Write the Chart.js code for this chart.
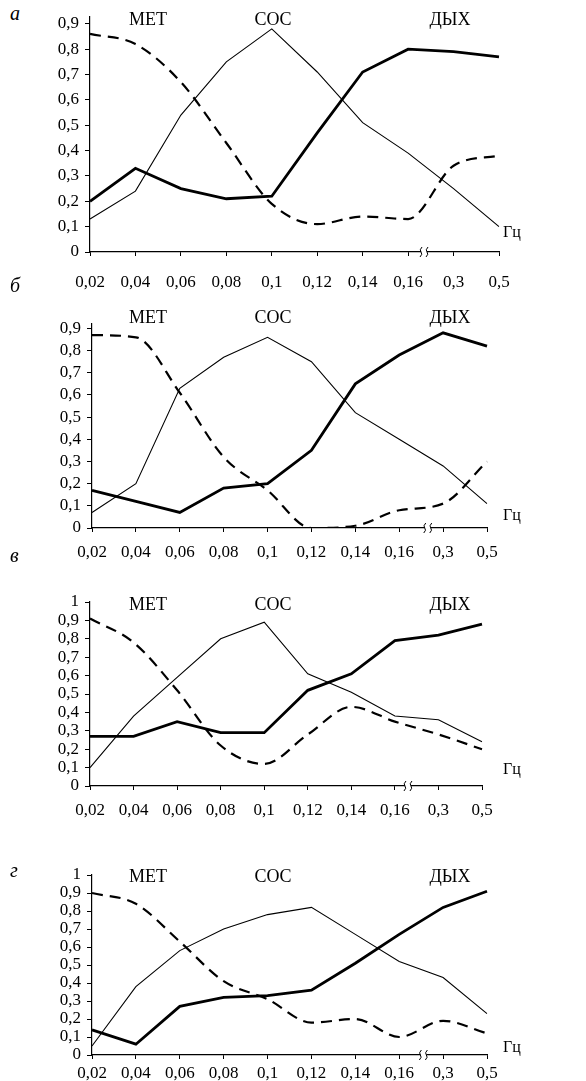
<!DOCTYPE html>
<html>
<head>
<meta charset="utf-8">
<script src="https://cdn.jsdelivr.net/npm/chart.js@4/dist/chart.umd.min.js"></script>
<style>
  body { margin: 0; background: #fff; }
  #wrap { position: relative; width: 586px; height: 1081px; overflow: hidden; }
  canvas { position: absolute; left: 0; }
  .letter { position: absolute; left: 10px; font: italic 20px "Liberation Serif", serif; color: #000; }
</style>
</head>
<body>
<div id="wrap"></div>
<script>
// частоты (ось X) и подписи
var freqLabels = ['0,02', '0,04', '0,06', '0,08', '0,1', '0,12', '0,14', '0,16', '0,3', '0,5'];
var groupNames = ['МЕТ', 'СОС', 'ДЫХ'];
var yTicks9 = [0, 0.1, 0.2, 0.3, 0.4, 0.5, 0.6, 0.7, 0.8, 0.9];
var yTicks10 = [0, 0.1, 0.2, 0.3, 0.4, 0.5, 0.6, 0.7, 0.8, 0.9, 1];

// а
var metA = [0.86, 0.82, 0.67, 0.43, 0.19, 0.11, 0.14, 0.13, 0.34, 0.38];
var socA = [0.13, 0.24, 0.54, 0.75, 0.88, 0.71, 0.51, 0.39, 0.25, 0.10];
var dyhA = [0.20, 0.33, 0.25, 0.21, 0.22, 0.47, 0.71, 0.80, 0.79, 0.77];
// б
var metB = [0.87, 0.86, 0.61, 0.32, 0.17, 0.00, 0.01, 0.08, 0.11, 0.30];
var socB = [0.07, 0.20, 0.63, 0.77, 0.86, 0.75, 0.52, 0.40, 0.28, 0.11];
var dyhB = [0.17, 0.12, 0.07, 0.18, 0.20, 0.35, 0.65, 0.78, 0.88, 0.82];
// в
var metC = [0.91, 0.78, 0.52, 0.22, 0.12, 0.28, 0.43, 0.35, 0.28, 0.20];
var socC = [0.10, 0.38, 0.59, 0.80, 0.89, 0.61, 0.51, 0.38, 0.36, 0.24];
var dyhC = [0.27, 0.27, 0.35, 0.29, 0.29, 0.52, 0.61, 0.79, 0.82, 0.88];
// г
var metD = [0.90, 0.84, 0.63, 0.41, 0.31, 0.18, 0.20, 0.10, 0.19, 0.12];
var socD = [0.05, 0.38, 0.58, 0.70, 0.78, 0.82, 0.67, 0.52, 0.43, 0.23];
var dyhD = [0.14, 0.06, 0.27, 0.32, 0.33, 0.36, 0.51, 0.67, 0.82, 0.91];

var FONT = '"Liberation Serif", "Times New Roman", serif';

// top/height - холст, padTop/bottom - область графика внутри холста
var panels = [
  { letter: 'а', top: 0,   height: 300, padTop: 15, bottom: 252, left: 90, right: 499, max: 0.93, yTicks: yTicks9,  gap: 20, titleY: 20, hzY: 233, brk: 7.35, letterY: 2,   data: [metA, socA, dyhA] },
  { letter: 'б', top: 300, height: 270, padTop: 24, bottom: 228, left: 92, right: 487, max: 0.92, yTicks: yTicks9,  gap: 14, titleY: 18, hzY: 216, brk: 7.65, letterY: 274, data: [metB, socB, dyhB] },
  { letter: 'в', top: 570, height: 255, padTop: 32, bottom: 216, left: 90, right: 482, max: 1,    yTicks: yTicks10, gap: 14, titleY: 35, hzY: 200, brk: 7.3,  letterY: 544, data: [metC, socC, dyhC] },
  { letter: 'г', top: 825, height: 256, padTop: 50, bottom: 230, left: 92, right: 487, max: 1,    yTicks: yTicks10, gap: 8,  titleY: 52, hzY: 223, brk: 7.55, letterY: 859, data: [metD, socD, dyhD] }
];

var wrap = document.getElementById('wrap');

panels.forEach(function(p){
  var lt = document.createElement('div');
  lt.className = 'letter';
  lt.style.top = p.letterY + 'px';
  lt.textContent = p.letter;
  wrap.appendChild(lt);

  var cv = document.createElement('canvas');
  cv.width = 586;
  cv.height = p.height;
  cv.style.top = p.top + 'px';
  wrap.appendChild(cv);

  // подписи МЕТ / СОС / ДЫХ, "Гц" и разрыв оси
  var extras = {
    id: 'extras',
    afterDraw: function(chart){
      var ctx = chart.ctx;
      var xs = chart.scales.x;
      var area = chart.chartArea;
      ctx.save();
      ctx.fillStyle = '#000';
      ctx.textAlign = 'center';
      ctx.textBaseline = 'middle';
      ctx.font = '18px ' + FONT;
      var titleX = [148, 273, 450];
      groupNames.forEach(function(n, i){ ctx.fillText(n, titleX[i], p.titleY); });
      ctx.font = '16px ' + FONT;
      ctx.fillText('Гц', 512, p.hzY);

      var bx = xs.getPixelForValue(p.brk);
      var by = area.bottom;
      ctx.fillStyle = '#fff';
      ctx.fillRect(bx - 3, by - 3, 6, 6);
      ctx.strokeStyle = '#000';
      ctx.lineWidth = 1;
      [-3, 3].forEach(function(d){
        ctx.beginPath();
        ctx.moveTo(bx + d + 1, by - 5);
        ctx.quadraticCurveTo(bx + d - 2, by - 2, bx + d, by);
        ctx.quadraticCurveTo(bx + d + 2, by + 2, bx + d - 1, by + 5);
        ctx.stroke();
      });
      ctx.restore();
    }
  };

  new Chart(cv.getContext('2d'), {
    type: 'line',
    data: {
      labels: freqLabels,
      datasets: [
        { label: groupNames[0], data: p.data[0], borderColor: '#000', borderWidth: 2.2, borderDash: [11, 7], pointRadius: 0, cubicInterpolationMode: 'monotone', fill: false },
        { label: groupNames[1], data: p.data[1], borderColor: '#000', borderWidth: 1.1, pointRadius: 0, tension: 0, fill: false },
        { label: groupNames[2], data: p.data[2], borderColor: '#000', borderWidth: 2.8, pointRadius: 0, tension: 0, fill: false }
      ]
    },
    options: {
      responsive: false,
      animation: false,
      devicePixelRatio: 1,
      layout: { padding: { top: p.padTop, left: 0, right: 586 - p.right, bottom: 0 } },
      plugins: { legend: { display: false }, tooltip: { enabled: false } },
      scales: {
        x: {
          offset: false,
          grid: { drawOnChartArea: false, drawTicks: true, tickLength: 4, color: '#000' },
          border: { color: '#000', width: 1.2 },
          ticks: { color: '#000', font: { family: FONT, size: 17 }, padding: p.gap - 4, maxRotation: 0, autoSkip: false },
          afterFit: function(s){ s.height = p.height - p.bottom; }
        },
        y: {
          min: 0,
          max: p.max,
          afterBuildTicks: function(s){ s.ticks = p.yTicks.map(function(v){ return { value: v }; }); },
          grid: { drawOnChartArea: false, drawTicks: true, tickLength: 5, color: '#000' },
          border: { color: '#000', width: 1.2 },
          ticks: {
            color: '#000',
            font: { family: FONT, size: 17 },
            padding: 6,
            autoSkip: false,
            callback: function(v){ return String(v).replace('.', ','); }
          },
          afterFit: function(s){ s.width = p.left; }
        }
      }
    },
    plugins: [extras]
  });
});
</script>
</body>
</html>
